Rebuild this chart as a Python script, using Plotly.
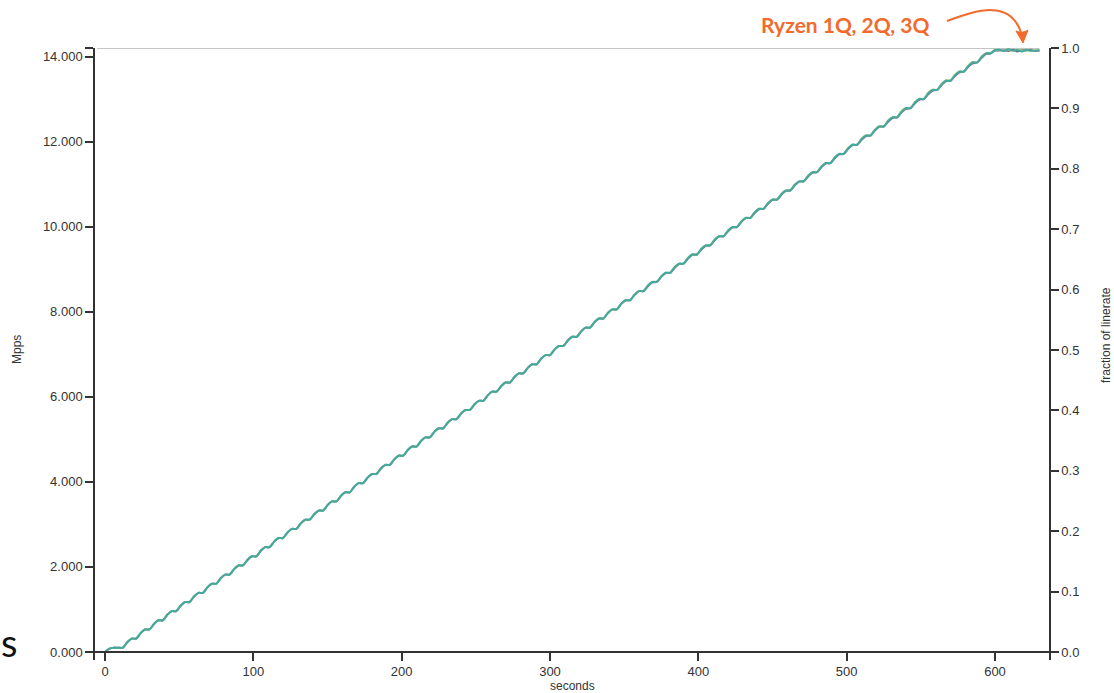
import plotly.graph_objects as go

# ---------------- data (Mpps sampled every 3 s) ----------------
seconds = list(range(0, 631, 3))

# shared part of the ramp (0 .. ~345 s), all three runs overlap here
ramp_start = [
    0.0, 0.08, 0.1, 0.1,
    0.1, 0.229, 0.315, 0.315, 0.444, 0.53, 0.53, 0.659, 0.745,
    0.745, 0.874, 0.96, 0.96, 1.089, 1.175, 1.175, 1.304, 1.39,
    1.39, 1.519, 1.605, 1.605, 1.734, 1.82, 1.82, 1.949, 2.035,
    2.035, 2.164, 2.25, 2.25, 2.379, 2.465, 2.465, 2.594, 2.68,
    2.68, 2.809, 2.895, 2.895, 3.024, 3.11, 3.11, 3.239, 3.325,
    3.325, 3.454, 3.54, 3.54, 3.669, 3.755, 3.755, 3.884, 3.97,
    3.97, 4.099, 4.185, 4.185, 4.314, 4.4, 4.4, 4.529, 4.615,
    4.615, 4.744, 4.83, 4.83, 4.959, 5.045, 5.045, 5.174, 5.26,
    5.26, 5.389, 5.475, 5.475, 5.604, 5.69, 5.69, 5.819, 5.905,
    5.905, 6.034, 6.12, 6.12, 6.249, 6.335, 6.335, 6.464, 6.55,
    6.55, 6.679, 6.765, 6.765, 6.894, 6.98, 6.98, 7.109, 7.195,
    7.195, 7.324, 7.41, 7.41, 7.539, 7.625, 7.625, 7.754, 7.84,
    7.84, 7.969, 8.055, 8.055, 8.184, 8.27, 8.27, 8.399, 8.485,
]

ryzen_3q = ramp_start + [
    8.485, 8.614, 8.7, 8.7, 8.829, 8.915, 8.915, 9.044, 9.13,
    9.13, 9.259, 9.345, 9.345, 9.474, 9.56, 9.56, 9.689, 9.775,
    9.775, 9.904, 9.99, 9.99, 10.119, 10.205, 10.205, 10.334, 10.42,
    10.42, 10.549, 10.635, 10.635, 10.764, 10.85, 10.85, 10.979, 11.065,
    11.065, 11.194, 11.28, 11.28, 11.409, 11.495, 11.495, 11.624, 11.71,
    11.71, 11.839, 11.925, 11.925, 12.054, 12.14, 12.14, 12.269, 12.355,
    12.355, 12.484, 12.57, 12.57, 12.699, 12.785, 12.785, 12.914, 13.0,
    13.0, 13.129, 13.215, 13.215, 13.344, 13.43, 13.43, 13.559, 13.645,
    13.645, 13.774, 13.86, 13.86, 13.989, 14.075,
    14.075, 14.15,
    14.16, 14.13, 14.17, 14.14, 14.15, 14.12, 14.16, 14.14, 14.13, 14.15,
]

ryzen_2q = ramp_start + [
    8.485, 8.62, 8.7, 8.71, 8.83, 8.915, 8.92, 9.05, 9.13,
    9.13, 9.27, 9.35, 9.345, 9.48, 9.56, 9.565, 9.70, 9.775,
    9.775, 9.91, 9.99, 9.995, 10.13, 10.21, 10.205, 10.34, 10.42,
    10.42, 10.56, 10.64, 10.635, 10.77, 10.85, 10.86, 10.99, 11.065,
    11.065, 11.20, 11.28, 11.29, 11.42, 11.50, 11.495, 11.63, 11.71,
    11.71, 11.85, 11.93, 11.925, 12.07, 12.15, 12.14, 12.28, 12.36,
    12.355, 12.50, 12.58, 12.57, 12.72, 12.79, 12.785, 12.93, 13.01,
    13.0, 13.15, 13.22, 13.215, 13.36, 13.44, 13.43, 13.57, 13.65,
    13.645, 13.79, 13.87, 13.86, 14.0, 14.08,
    14.08, 14.16,
    14.15, 14.14, 14.16, 14.13, 14.16, 14.14, 14.15, 14.13, 14.15, 14.14,
]

ryzen_1q = ramp_start + [
    8.485, 8.60, 8.69, 8.70, 8.82, 8.91, 8.915, 9.03, 9.12,
    9.13, 9.25, 9.34, 9.345, 9.46, 9.55, 9.56, 9.68, 9.77,
    9.775, 9.89, 9.98, 9.99, 10.11, 10.20, 10.205, 10.32, 10.41,
    10.42, 10.54, 10.63, 10.635, 10.75, 10.84, 10.85, 10.97, 11.06,
    11.065, 11.18, 11.27, 11.28, 11.40, 11.49, 11.495, 11.61, 11.70,
    11.71, 11.83, 11.92, 11.925, 12.04, 12.13, 12.14, 12.26, 12.35,
    12.355, 12.47, 12.56, 12.57, 12.69, 12.77, 12.785, 12.90, 12.99,
    13.0, 13.11, 13.20, 13.215, 13.33, 13.42, 13.43, 13.54, 13.63,
    13.645, 13.76, 13.84, 13.86, 13.97, 14.06,
    14.07, 14.14,
    14.14, 14.15, 14.13, 14.16, 14.12, 14.15, 14.14, 14.16, 14.13, 14.14,
]

linerate_mpps = 14.2
left_ticks = [0, 2, 4, 6, 8, 10, 12, 14]
right_ticks = [0.0, 0.1, 0.2, 0.3, 0.4, 0.5, 0.6, 0.7, 0.8, 0.9, 1.0]
x_ticks = [0, 100, 200, 300, 400, 500, 600]

series_names = ["Ryzen 1Q", "Ryzen 2Q", "Ryzen 3Q"]
series_values = [ryzen_1q, ryzen_2q, ryzen_3q]
series_colors = ["#7a5d91", "#a5cf6b", "#42a8a2"]

# ---------------- layout geometry (pixels) ----------------
W, H = 1114, 693
L, R, T, B = 95, 1049, 48, 660          # plot area edges
X0_PX, X600_PX = 105, 995               # x=0 and x=600
Y0_PX = 652                             # y=0 position

sx = (X600_PX - X0_PX) / 600.0
x_range = [(L - X0_PX) / sx, (R - X0_PX) / sx]
sy = (Y0_PX - T) / linerate_mpps
y_range = [-(B - Y0_PX) / sy, linerate_mpps]
y2_range = [y_range[0] / linerate_mpps, 1.0]


def px(x, y):
    return ((x - L) / (R - L), (B - y) / (B - T))


def path(cmds):
    out = []
    for c in cmds:
        if isinstance(c, str):
            out.append(c)
        else:
            a, b = px(*c)
            out.append(f"{a:.5f},{b:.5f}")
    return " ".join(out)


fig = go.Figure()

for name, vals, col in zip(series_names, series_values, series_colors):
    fig.add_trace(go.Scatter(
        x=seconds, y=vals, mode="lines", name=name,
        line=dict(color=col, width=2, shape="spline", smoothing=0.8),
        hoverinfo="skip",
    ))

# linerate line
fig.add_shape(type="line", xref="x", yref="y",
              x0=x_range[0] + 1.5, x1=seconds[-1], y0=linerate_mpps, y1=linerate_mpps,
              line=dict(color="#b0b0b0", width=1.5), layer="below")

# invisible trace for right axis
fig.add_trace(go.Scatter(x=[None], y=[None], yaxis="y2", showlegend=False, hoverinfo="skip"))

axis_font = dict(family="Liberation Sans, Arial, sans-serif", size=13, color="#333333")

fig.update_layout(
    width=W, height=H,
    margin=dict(l=L, r=W - R, t=T, b=H - B, pad=0),
    paper_bgcolor="white", plot_bgcolor="white",
    showlegend=False,
    xaxis=dict(
        range=x_range, showgrid=False, zeroline=False,
        tickvals=x_ticks, ticktext=[str(v) for v in x_ticks],
        ticks="outside", ticklen=8, tickwidth=1.5, tickcolor="#333333",
        showline=True, linecolor="#333333", linewidth=1.5,
        anchor="free", position=(B - Y0_PX) / (B - T),
        tickfont=axis_font,
    ),
    yaxis=dict(
        range=y_range, showgrid=False, zeroline=False,
        tickvals=left_ticks + [linerate_mpps],
        ticktext=[f"{v:.3f}" for v in left_ticks] + [""],
        ticks="outside", ticklen=8, tickwidth=1.5, tickcolor="#333333",
        showline=True, linecolor="#333333", linewidth=1.5,
        tickfont=axis_font,
    ),
    yaxis2=dict(
        range=y2_range, overlaying="y", side="right", anchor="x",
        showgrid=False, zeroline=False,
        tickvals=right_ticks, ticktext=[f"{v:.1f}" for v in right_ticks],
        ticks="outside", ticklen=8, tickwidth=1.5, tickcolor="#333333",
        showline=True, linecolor="#333333", linewidth=1.5,
        tickfont=axis_font,
    ),
)

title_font = dict(family="Liberation Sans, Arial, sans-serif", size=12, color="#333333")
ax, ay = px(17, 350)
fig.add_annotation(x=ax, y=ay, xref="paper", yref="paper", text="Mpps", textangle=-90,
                   showarrow=False, font=title_font, xanchor="center", yanchor="middle")
ax, ay = px(1106, 335)
fig.add_annotation(x=ax, y=ay, xref="paper", yref="paper", text="fraction of linerate",
                   textangle=-90, showarrow=False, font=title_font,
                   xanchor="center", yanchor="middle")
ax, ay = px(572, 686)
fig.add_annotation(x=ax, y=ay, xref="paper", yref="paper", text="seconds",
                   showarrow=False, font=title_font, xanchor="center", yanchor="middle")

# callout label
orange = "#f26a2c"
ax, ay = px(845, 25)
fig.add_annotation(x=ax, y=ay, xref="paper", yref="paper", text="<b>Ryzen 1Q, 2Q, 3Q</b>",
                   showarrow=False, font=dict(family="Lato, sans-serif", size=21, color=orange),
                   xanchor="center", yanchor="middle")

# curved arrow
fig.add_shape(type="path", xref="paper", yref="paper",
              path=path(["M", (947, 21), "C", (975, 11), (1012, -3), (1022, 36)]),
              line=dict(color=orange, width=2))
fig.add_shape(type="path", xref="paper", yref="paper",
              path=path(["M", (1016, 31), "L", (1023, 43), "L", (1028, 30),
                         "Q", (1022, 34), (1016, 31), "Z"]),
              line=dict(color=orange, width=1), fillcolor=orange)

# letter at bottom-left edge (kept fully inside the page)
ax, ay = px(0, 642)
fig.add_annotation(x=ax, y=ay, xref="paper", yref="paper", text="s",
                   showarrow=False, font=dict(family="Lato, sans-serif", size=38, color="#111111"),
                   xanchor="left", yanchor="middle", borderpad=0)

fig.write_html(
    "out.html",
    config={"displayModeBar": False},
    post_script="document.body.style.margin='0';document.body.style.overflow='hidden';",
)
